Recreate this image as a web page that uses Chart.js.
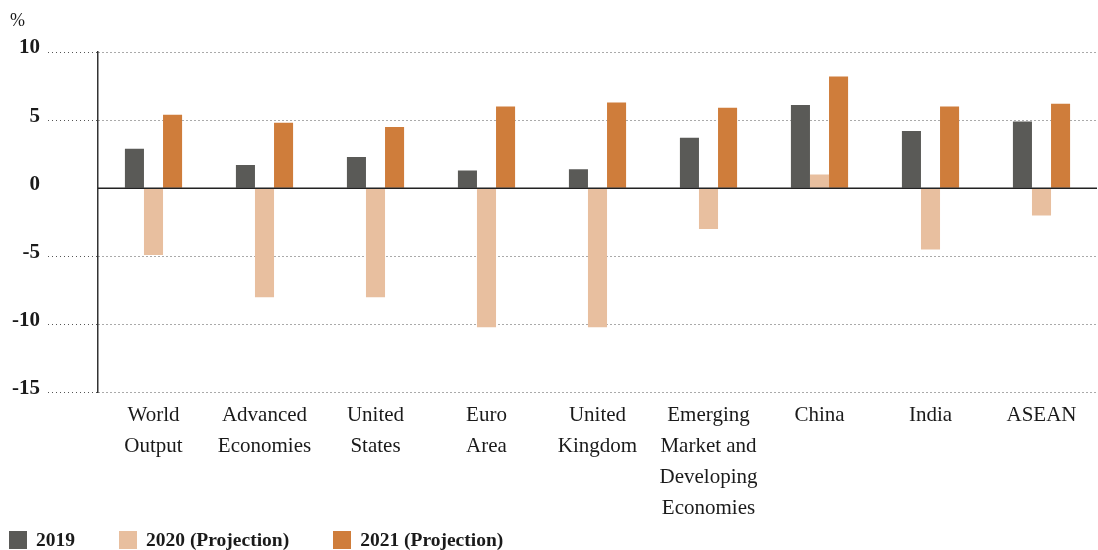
<!DOCTYPE html>
<html>
<head>
<meta charset="utf-8">
<script src="https://cdn.jsdelivr.net/npm/chart.js@4/dist/chart.umd.min.js"></script>
<style>
  html, body { margin: 0; padding: 0; background: #fff; }
  #wrap { position: relative; width: 1098px; height: 550px; font-family: "Liberation Serif", serif; color: #1a1a1a; }
  #unit { position: absolute; left: 10px; top: 10px; font-size: 18px; }
  #legend { position: absolute; left: 9px; top: 529px; display: flex; align-items: center; }
  .item { display: flex; align-items: center; margin-right: 44px; font-weight: bold; font-size: 19.5px; }
  .box { width: 18px; height: 18px; margin-right: 9px; }
</style>
</head>
<body>
<div id="wrap">
  <canvas id="chart" width="1098" height="550"></canvas>
  <div id="unit">%</div>
  <div id="legend"></div>
</div>
<script>
const CATEGORIES = [
  ["World", "Output"],
  ["Advanced", "Economies"],
  ["United", "States"],
  ["Euro", "Area"],
  ["United", "Kingdom"],
  ["Emerging", "Market and", "Developing", "Economies"],
  "China",
  "India",
  "ASEAN",
];
const SERIES_NAMES = ["2019", "2020 (Projection)", "2021 (Projection)"];
const SERIES_COLORS = ["#5a5a57", "#e8bf9f", "#cf7d3b"];
const VALUES_2019 = [2.9, 1.7, 2.3, 1.3, 1.4, 3.7, 6.1, 4.2, 4.9];
const VALUES_2020 = [-4.9, -8.0, -8.0, -10.2, -10.2, -3.0, 1.0, -4.5, -2.0];
const VALUES_2021 = [5.4, 4.8, 4.5, 6.0, 6.3, 5.9, 8.2, 6.0, 6.2];
const Y_MIN = -15, Y_MAX = 10, Y_STEP = 5;

const SERIF = "'Liberation Serif', serif";
const GRID = "#555";

// solid zero line over the dotted grid
const zeroLine = {
  id: "zeroLine",
  afterDatasetsDraw(chart) {
    const { ctx, chartArea, scales } = chart;
    const y = scales.y.getPixelForValue(0);
    ctx.save();
    ctx.strokeStyle = "#222";
    ctx.lineWidth = 1.6;
    ctx.beginPath();
    ctx.moveTo(chartArea.left, y);
    ctx.lineTo(chartArea.right, y);
    ctx.stroke();
    ctx.restore();
  },
};

const allValues = [VALUES_2019, VALUES_2020, VALUES_2021];

new Chart(document.getElementById("chart"), {
  type: "bar",
  data: {
    labels: CATEGORIES,
    datasets: SERIES_NAMES.map((name, i) => ({
      label: name,
      data: allValues[i],
      backgroundColor: SERIES_COLORS[i],
      categoryPercentage: 0.515,
      barPercentage: 1.0,
    })),
  },
  options: {
    responsive: false,
    animation: false,
    layout: { padding: { left: 10, right: 1, top: 52, bottom: 26 } },
    plugins: { legend: { display: false }, tooltip: { enabled: false } },
    scales: {
      x: {
        grid: { display: false },
        border: { display: false },
        ticks: {
          color: "#1a1a1a",
          font: { family: SERIF, size: 21, lineHeight: 1.47 },
          padding: 0,
          maxRotation: 0,
          autoSkip: false,
        },
      },
      y: {
        min: Y_MIN,
        max: Y_MAX,
        afterFit(scale) { scale.width = 88; },
        border: { display: true, color: "#333", width: 1.5, dash: [1, 3] },
        grid: {
          color: GRID,
          lineWidth: 1,
          tickLength: 50,
          tickBorderDash: [1, 3],
          tickColor: (c) => (c.tick && c.tick.value === 0 ? "rgba(0,0,0,0)" : GRID),
        },
        ticks: {
          stepSize: Y_STEP,
          color: "#1a1a1a",
          font: { family: SERIF, size: 21, weight: "bold" },
          padding: 8,
          labelOffset: -4,
          callback: (v) => String(v),
        },
      },
    },
  },
  plugins: [zeroLine],
});

const legend = document.getElementById("legend");
SERIES_NAMES.forEach((name, i) => {
  const item = document.createElement("div");
  item.className = "item";
  item.innerHTML = `<span class="box" style="background:${SERIES_COLORS[i]}"></span>${name}`;
  legend.appendChild(item);
});
</script>
</body>
</html>
